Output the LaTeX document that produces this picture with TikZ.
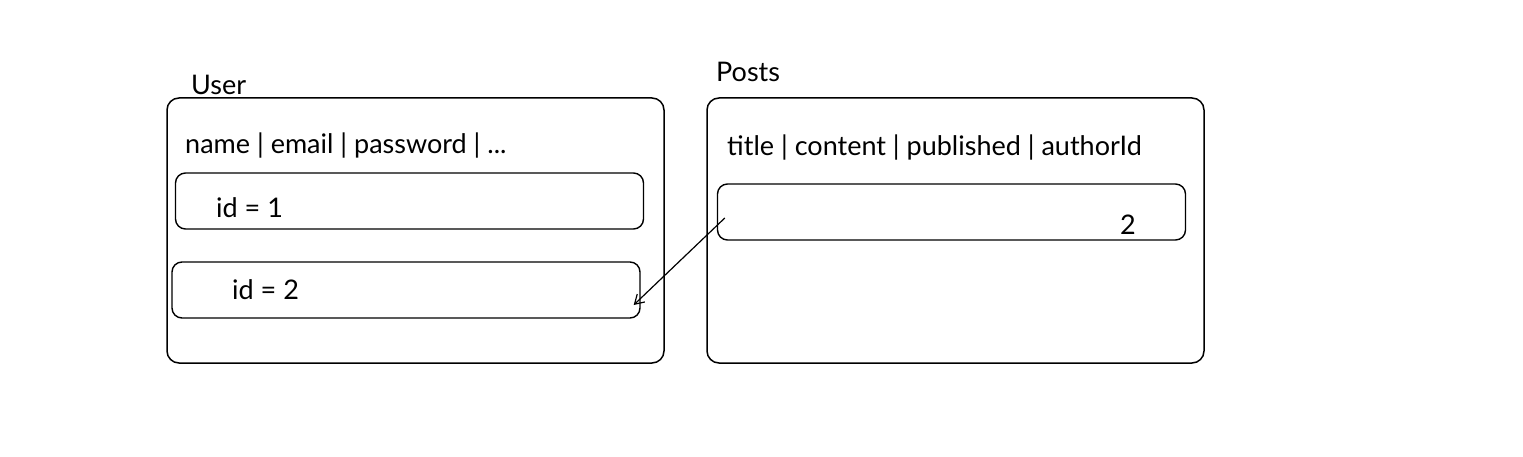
\documentclass[tikz,border=0pt]{standalone}
\usepackage{fontspec}
\setmainfont{Lato}
\usetikzlibrary{arrows.meta}

\begin{document}
\begin{tikzpicture}[x=1pt, y=-1pt,
    table/.style={draw, line width=1.5pt, rounded corners=12pt, minimum width=497pt, minimum height=265pt},
    row/.style={draw, line width=1.4pt, rounded corners=10pt, minimum width=468pt, minimum height=56pt},
    txt/.style={font=\fontsize{27}{30}\selectfont, inner sep=0pt, anchor=base west}]
    \useasboundingbox (0,0) rectangle (1523,457);

    % the two tables
    \node[table] (user) at (415.5,230.5) {};
    \node[table] (posts) at (955.5,230.5) {};
    \node[txt] (userlbl) at (191,95) {User};
    \node[txt] (postslbl) at (716,82) {Posts};

    % header lines
    \node[txt] (usercols) at (185,154) {name | email | password | ...};
    \node[txt] (postcols) at (727,156) {title | content | published | authorId};

    % rows
    \node[row] (rowone) at (409.5,201) {};
    \node[row] (rowtwo) at (406,290) {};
    \node[row] (postrow) at (951.5,212) {};
    \node[txt] (idone) at (216,218) {id = 1};
    \node[txt] (idtwo) at (232,299) {id = 2};
    \node[txt] (authorval) at (1120,234) {2};

    \draw[line width=1.2pt, -{Straight Barb[length=9pt, width=11pt]}]
        ([xshift=8pt, yshift=-6pt]postrow.west) -- ([xshift=-7pt, yshift=-15pt]rowtwo.east);
\end{tikzpicture}
\end{document}
